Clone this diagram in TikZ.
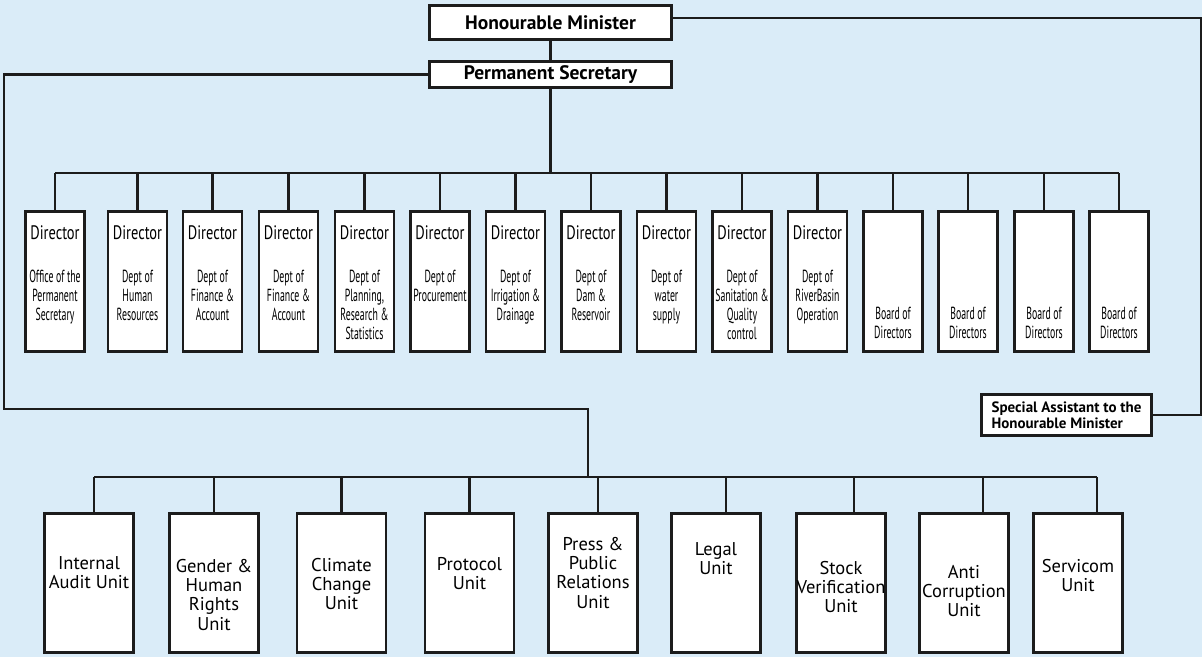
\documentclass[tikz,border=0pt]{standalone}
\usepackage{fontspec}
\setmainfont{PT Sans}
\newfontfamily\dirfont[FakeStretch=0.74]{PT Sans}
\newfontfamily\subfont[FakeStretch=0.56]{PT Sans}
\definecolor{bg}{RGB}{218,236,248}
\definecolor{ink}{RGB}{28,28,28}
\begin{document}
\begin{tikzpicture}[x=1pt,y=-1pt,
  box/.style={draw=ink, line width=2.8pt, fill=white, inner sep=0pt},
  conn/.style={line width=2.7pt, draw=ink},
  dbox/.style={box, minimum width=59pt, minimum height=140pt},
  ubox/.style={box, minimum width=89pt, minimum height=139pt},
  txt/.style={inner sep=0pt, align=center},
  head/.style={font=\bfseries\fontsize{19.5}{21}\selectfont},
  dirtxt/.style={txt, font=\dirfont\fontsize{19.5}{20}\selectfont},
  subtxt/.style={txt, anchor=north, font=\subfont\fontsize{17.5}{19}\selectfont},
  unittxt/.style={txt, anchor=north, font=\fontsize{18.5}{19.3}\selectfont},
]
\fill[bg] (0,0) rectangle (1202,657);
\useasboundingbox (0,0) rectangle (1202,657);

% top level
\node[box, head, minimum width=242pt, minimum height=34pt] (min) at (550.5,22.5) {Honourable Minister};
\node[box, head, minimum width=242pt, minimum height=26pt] (ps) at (550.5,74.5) {Permanent Secretary};
\node[box, align=left, minimum width=170pt, minimum height=41pt,
      font=\bfseries\fontsize{15}{16}\selectfont] (sa) at (1066.5,415) {Special Assistant to the\\Honourable Minister};

% directors
\foreach \i/\cx in {1/55,2/137.5,3/212.5,4/288.5,5/364.5,6/440,7/515.5,8/591,9/666.5,10/742,11/817.5,12/893,13/968,14/1044,15/1119}
  \node[dbox] (d\i) at (\cx,281.5) {};
\foreach \i in {1,...,11}
  \node[dirtxt] (dl\i) at (d\i.center |- 0,233) {Director};
\node[subtxt] (ds1) at (d1.center |- 0,270) {Office of the\\Permanent\\Secretary};
\node[subtxt] (ds2) at (d2.center |- 0,270) {Dept of\\Human\\Resources};
\node[subtxt] (ds3) at (d3.center |- 0,270) {Dept of\\Finance \&\\Account};
\node[subtxt] (ds4) at (d4.center |- 0,270) {Dept of\\Finance \&\\Account};
\node[subtxt] (ds5) at (d5.center |- 0,270) {Dept of\\Planning,\\Research \&\\Statistics};
\node[subtxt] (ds6) at (d6.center |- 0,270) {Dept of\\Procurement};
\node[subtxt] (ds7) at (d7.center |- 0,270) {Dept of\\Irrigation \&\\Drainage};
\node[subtxt] (ds8) at (d8.center |- 0,270) {Dept of\\Dam \&\\Reservoir};
\node[subtxt] (ds9) at (d9.center |- 0,270) {Dept of\\water\\supply};
\node[subtxt] (ds10) at (d10.center |- 0,270) {Dept of\\Sanitation \&\\Quality\\control};
\node[subtxt] (ds11) at (d11.center |- 0,270) {Dept of\\RiverBasin\\Operation};
\foreach \i in {12,...,15}
  \node[subtxt] (ds\i) at (d\i.center |- 0,307) {Board of\\Directors};

% units
\foreach \i/\cx in {1/89,2/214,3/341.5,4/469.5,5/593,6/716,7/841,8/964,9/1078}
  \node[ubox] (u\i) at (\cx,583) {};
\node[unittxt] (ut1) at (u1.center |- 0,556) {Internal\\Audit Unit};
\node[unittxt] (ut2) at (u2.center |- 0,559) {Gender \&\\Human\\Rights\\Unit};
\node[unittxt] (ut3) at (u3.center |- 0,558) {Climate\\Change\\Unit};
\node[unittxt] (ut4) at (u4.center |- 0,557) {Protocol\\Unit};
\node[unittxt] (ut5) at (u5.center |- 0,537) {Press \&\\Public\\Relations\\Unit};
\node[unittxt] (ut6) at (u6.center |- 0,542) {Legal\\Unit};
\node[unittxt] (ut7) at (u7.center |- 0,561) {Stock\\Verification\\Unit};
\node[unittxt] (ut8) at (u8.center |- 0,565) {Anti\\Corruption\\Unit};
\node[unittxt] (ut9) at (u9.center |- 0,559) {Servicom\\Unit};

% connectors
\coordinate (dbus) at (552,173);
\coordinate (ubus) at (588,477);
\coordinate (l1) at (4,409);
\coordinate (rt) at (1201,18);
\draw[conn] (min) -- (ps);
\draw[conn] ([yshift=4.5pt]min.east) -- (rt) |- (sa.east);
\draw[conn] (ps.west) -| (l1) -| (ubus);
\draw[conn] (ps.south) -- (ps.south |- dbus);
\draw[conn] (d1.north |- dbus) -- (d15.north |- dbus);
\foreach \i in {1,...,15}
  \draw[conn] (d\i.north) -- (d\i.north |- dbus);
\draw[conn] ([xshift=5pt]u1.north |- ubus) -- ([xshift=19pt]u9.north |- ubus);
\foreach \i/\dx in {1/5,2/0,3/0,4/0,5/5,6/10,7/13,8/19,9/19}
  \draw[conn] ([xshift=\dx pt]u\i.north) -- ([xshift=\dx pt]u\i.north |- ubus);
\end{tikzpicture}
\end{document}
